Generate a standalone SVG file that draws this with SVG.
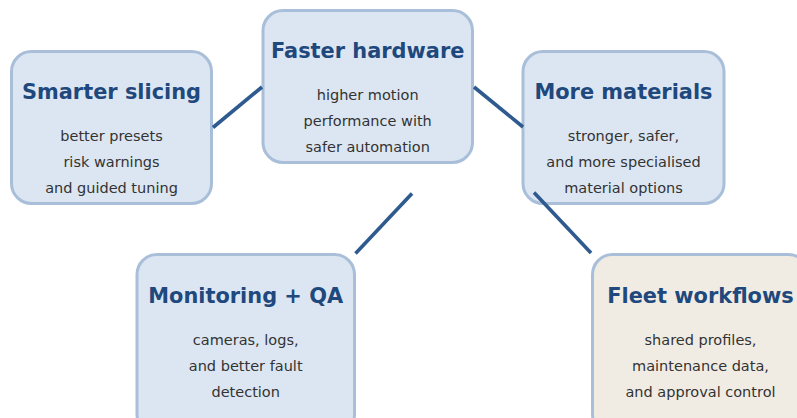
<svg xmlns="http://www.w3.org/2000/svg" width="797" height="418" viewBox="0 0 797 418">
<style>
.box{fill:#dce6f2;stroke:#a9bfd9;stroke-width:3}
.alt{fill:#f0ece4}
.t{font-family:"DejaVu Sans",sans-serif;font-weight:bold;font-size:20.9px;fill:#1f487d;text-anchor:middle}
.b{font-family:"DejaVu Sans",sans-serif;font-size:14.5px;fill:#333333;text-anchor:middle}
.c{stroke:#2f5a8f;stroke-width:3.6;stroke-linecap:butt;fill:none}
</style>
<rect width="797" height="418" fill="#ffffff"/>
<g id="smarter-slicing">
<rect class="box" x="11.5" y="51.5" width="200" height="152" rx="20"/>
<text class="t" x="111.5" y="99">Smarter slicing</text>
<text class="b" x="111.5" y="141">better presets</text>
<text class="b" x="111.5" y="167">risk warnings</text>
<text class="b" x="111.5" y="193">and guided tuning</text>
</g>
<g id="faster-hardware">
<rect class="box" x="263" y="10.5" width="209.5" height="152" rx="20"/>
<text class="t" x="367.7" y="58">Faster hardware</text>
<text class="b" x="367.7" y="100">higher motion</text>
<text class="b" x="367.7" y="126">performance with</text>
<text class="b" x="367.7" y="152">safer automation</text>
</g>
<g id="more-materials">
<rect class="box" x="523" y="51.5" width="201" height="152" rx="20"/>
<text class="t" x="623.5" y="99">More materials</text>
<text class="b" x="623.5" y="141">stronger, safer,</text>
<text class="b" x="623.5" y="167">and more specialised</text>
<text class="b" x="623.5" y="193">material options</text>
</g>
<g id="monitoring-qa">
<rect class="box" x="137" y="254.5" width="217.5" height="180" rx="20"/>
<text class="t" x="245.7" y="302.5">Monitoring + QA</text>
<text class="b" x="245.7" y="345">cameras, logs,</text>
<text class="b" x="245.7" y="371">and better fault</text>
<text class="b" x="245.7" y="397">detection</text>
</g>
<g id="fleet-workflows">
<rect class="box alt" x="592.5" y="254.5" width="216" height="180" rx="20"/>
<text class="t" x="700.5" y="302.5">Fleet workflows</text>
<text class="b" x="700.5" y="345">shared profiles,</text>
<text class="b" x="700.5" y="371">maintenance data,</text>
<text class="b" x="700.5" y="397">and approval control</text>
</g>
<g id="connectors">
<line class="c" x1="213" y1="127.5" x2="262" y2="87"/>
<line class="c" x1="474" y1="87" x2="523" y2="127"/>
<line class="c" x1="412" y1="193.5" x2="355.5" y2="253.5"/>
<line class="c" x1="534" y1="192.5" x2="591" y2="253"/>
</g>
</svg>
